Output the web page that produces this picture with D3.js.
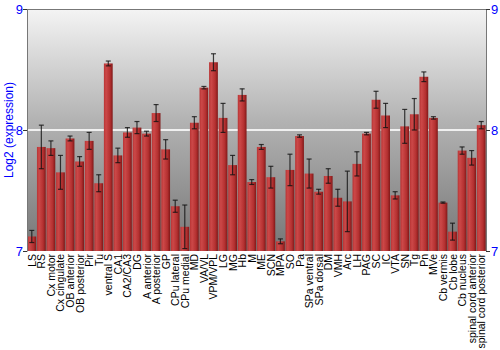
<!DOCTYPE html>
<html>
<head>
<meta charset="utf-8">
<script src="https://cdn.jsdelivr.net/npm/d3@7"></script>
<style>
  body { margin: 0; background: #fff; }
  svg { font-family: "Liberation Sans", Arial, sans-serif; }
</style>
</head>
<body>
<svg id="chart" width="500" height="350"></svg>
<script>
var regions = ["LS", "RS", "Cx motor", "Cx cingulate", "OB anterior", "OB posterior", "Pir", "Tu",
  "ventral S", "CA1", "CA2/CA3", "DG", "A anterior", "A posterior", "GP", "CPu lateral",
  "CPu medial", "MD", "VA/VL", "VPM/VPL", "LG", "MG", "Hb", "M", "ME", "SCN", "MPA", "SO",
  "Pa", "SPa ventral", "SPa dorsal", "DM", "VMH", "Arc", "LH", "PAG", "SC", "IC", "VTA",
  "SN", "Tg", "Pn", "MVe", "Cb vermis", "Cb lobe", "Cb nucleus", "spinal cord anterior",
  "spinal cord posterior"];

var expression = [7.12, 7.86, 7.85, 7.65, 7.93, 7.74, 7.91, 7.56,
  8.55, 7.79, 7.98, 8.02, 7.97, 8.14, 7.84, 7.37,
  7.20, 8.06, 8.35, 8.56, 8.10, 7.71, 8.29, 7.57, 7.86, 7.61, 7.08, 7.67,
  7.95, 7.64, 7.49, 7.62, 7.44, 7.41, 7.72, 7.97, 8.25, 8.12, 7.46,
  8.03, 8.13, 8.44, 8.10, 7.40, 7.16, 7.83, 7.77,
  8.04];

var errors = [0.05, 0.18, 0.06, 0.14, 0.02, 0.04, 0.07, 0.07,
  0.02, 0.06, 0.04, 0.05, 0.02, 0.07, 0.08, 0.05,
  0.18, 0.05, 0.01, 0.07, 0.12, 0.08, 0.05, 0.02, 0.02, 0.09, 0.02, 0.13,
  0.01, 0.12, 0.02, 0.06, 0.07, 0.25, 0.10, 0.01, 0.07, 0.10, 0.03,
  0.14, 0.13, 0.04, 0.01, 0.005, 0.07, 0.03, 0.06,
  0.03];

var yTicks = [7, 8, 9];

var data = regions.map(function(r, i) {
  return {name: r, value: expression[i], err: errors[i]};
});

var plotLeft = 27, plotRight = 486, plotTop = 9, plotBottom = 251;

var svg = d3.select("#chart");

var x = d3.scaleBand()
    .domain(regions)
    .range([plotLeft, plotRight])
    .paddingInner(0.08)
    .paddingOuter(0.04);

var y = d3.scaleLinear()
    .domain([7, 9])
    .range([plotBottom, plotTop]);

var defs = svg.append("defs");

var bg = defs.append("linearGradient")
    .attr("id", "bg").attr("x1", 0).attr("y1", 0).attr("x2", 0).attr("y2", 1);
bg.append("stop").attr("offset", "0%").attr("stop-color", "#f4f4f4");
bg.append("stop").attr("offset", "45%").attr("stop-color", "#b4b4b4");
bg.append("stop").attr("offset", "100%").attr("stop-color", "#767676");

var bar = defs.append("linearGradient")
    .attr("id", "bar").attr("x1", 0).attr("y1", 0).attr("x2", 1).attr("y2", 0);
bar.append("stop").attr("offset", "0%").attr("stop-color", "#b83434");
bar.append("stop").attr("offset", "25%").attr("stop-color", "#cc4848");
bar.append("stop").attr("offset", "70%").attr("stop-color", "#b43030");
bar.append("stop").attr("offset", "100%").attr("stop-color", "#801818");

// plot background
svg.append("rect")
    .attr("x", plotLeft)
    .attr("y", plotTop)
    .attr("width", plotRight - plotLeft)
    .attr("height", plotBottom - plotTop)
    .attr("fill", "url(#bg)");

// white line at 8
svg.append("line")
    .attr("x1", plotLeft).attr("x2", plotRight)
    .attr("y1", y(8)).attr("y2", y(8))
    .attr("stroke", "#f0f0f0")
    .attr("stroke-width", 2);

var g = svg.selectAll("g.bar")
    .data(data)
    .enter()
    .append("g")
    .attr("class", "bar");

g.append("rect")
    .attr("x", function(d) { return x(d.name); })
    .attr("y", function(d) { return y(d.value); })
    .attr("width", x.bandwidth())
    .attr("height", function(d) { return plotBottom - y(d.value); })
    .attr("fill", "url(#bar)");

// error bars
g.append("line")
    .attr("x1", function(d) { return x(d.name) + x.bandwidth() / 2; })
    .attr("x2", function(d) { return x(d.name) + x.bandwidth() / 2; })
    .attr("y1", function(d) { return y(d.value + d.err); })
    .attr("y2", function(d) { return y(d.value - d.err); })
    .attr("stroke", "#111")
    .attr("stroke-opacity", 0.8)
    .attr("stroke-width", 1.2);

[1, -1].forEach(function(s) {
  g.append("line")
      .attr("x1", function(d) { return x(d.name) + x.bandwidth() / 2 - 2.5; })
      .attr("x2", function(d) { return x(d.name) + x.bandwidth() / 2 + 2.5; })
      .attr("y1", function(d) { return y(d.value + s * d.err); })
      .attr("y2", function(d) { return y(d.value + s * d.err); })
      .attr("stroke", "#111")
      .attr("stroke-opacity", 0.8)
      .attr("stroke-width", 1.2);
});

// top border
svg.append("line")
    .attr("x1", plotLeft).attr("x2", plotRight)
    .attr("y1", plotTop + 0.5).attr("y2", plotTop + 0.5)
    .attr("stroke", "#777");

var leftAxis = svg.append("g")
    .attr("transform", "translate(" + plotLeft + ",0)")
    .call(d3.axisLeft(y).tickValues(yTicks).tickSize(4).tickSizeOuter(0).tickFormat(d3.format("d")));

var rightAxis = svg.append("g")
    .attr("transform", "translate(" + plotRight + ",0)")
    .call(d3.axisRight(y).tickValues(yTicks).tickSize(4).tickSizeOuter(0).tickFormat(d3.format("d")));

[leftAxis, rightAxis].forEach(function(a) {
  a.select(".domain").attr("stroke", "#777");
  a.selectAll(".tick line").attr("stroke", "#333");
  a.selectAll(".tick text")
      .attr("fill", "#0000ff")
      .style("font-size", "13px")
      .style("font-family", "'Liberation Sans', Arial, sans-serif");
});
leftAxis.selectAll(".tick text").attr("x", -4);
rightAxis.selectAll(".tick text").attr("x", 5);

// axis title
svg.append("text")
    .attr("transform", "translate(13," + ((plotTop + plotBottom) / 2) + ") rotate(-90)")
    .attr("text-anchor", "middle")
    .attr("fill", "#0000ff")
    .style("font-size", "12px")
    .text("Log2 (expression)");

// category labels
svg.selectAll("text.cat")
    .data(regions)
    .enter()
    .append("text")
    .attr("class", "cat")
    .attr("transform", function(d) {
      return "translate(" + (x(d) + x.bandwidth() / 2 + 4) + "," + (plotBottom + 3) + ") rotate(-90)";
    })
    .attr("text-anchor", "end")
    .attr("fill", "#000")
    .style("font-size", "10.5px")
    .text(function(d) { return d; });
</script>
</body>
</html>
